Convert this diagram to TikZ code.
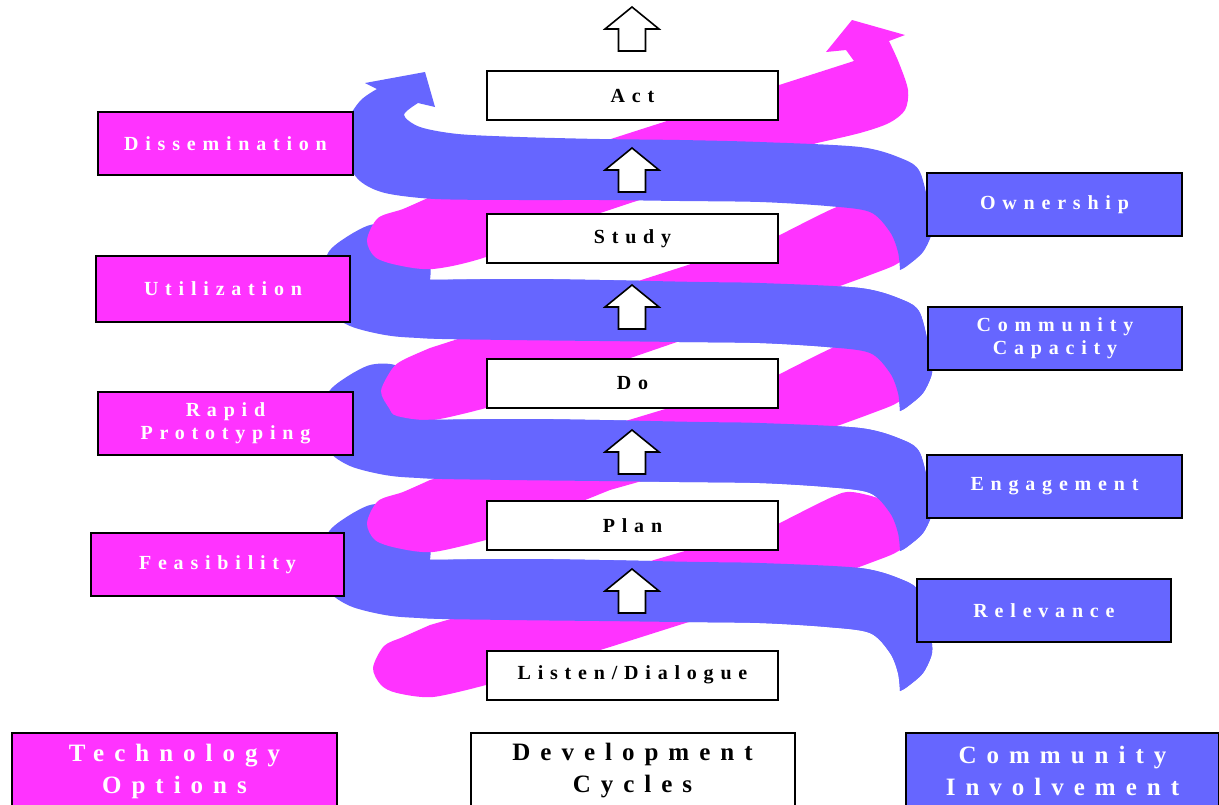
\documentclass[tikz,border=0pt]{standalone}
\usepackage{fontspec}
\setmainfont{Liberation Serif}
\newfontfamily\spaced{Liberation Serif}[LetterSpace=34]
\newfontfamily\spacedbig{Liberation Serif}[LetterSpace=40]
\definecolor{mag}{RGB}{255,51,255}
\definecolor{blu}{RGB}{102,102,255}
% magenta strand: #1 left y, #2 right y, #3 tip x shift, #4 y of lower edge at x=610
\newcommand\mstrand[4]{%
\fill[mag] plot[smooth] coordinates {(486,#1+25)(433,#1+37)(397,#1+33)(375+#3,#1+25)(367+#3,#1+8)(378+#3,#1-14)(403,#1-23)(430,#1-35)}
 -- (778,#2+29) -- plot[smooth] coordinates {(778,#2+29)(832,#2+2)(852,#2-3)(885,#2+6)(905,#2+25)(906,#2+48)(895,#2+58)(870,#2+68)(840,#2+79)}
 -- (610,#4) -- cycle;}
% blue band, back part (with curl), upper edge at y=0
\newcommand\blueback{%
\fill[blu] plot[smooth] coordinates {(430,0)(520,-1)(600,0)(700,2)(760,3)(860,8)(903,20)(920,33)(930,73)(932,93)(923,113)(907,127)(900,131)}
 -- plot[smooth] coordinates {(900,131)(898,113)(890,93)(870,73)(827,67)(760,63)(680,62)(600,61)(510,60)(420,58)(385,55)(350,46)(328,30)(322,0)(328,-27)(345,-42)(370,-55)(395,-55)(420,-40)(430,-15)(430,0)} -- cycle;}
% blue band, front part
\newcommand\bluefront{%
\fill[blu] plot[smooth] coordinates {(405,0)(520,-1)(600,0)(700,2)(760,3)(860,8)(903,20)(920,33)(930,73)(932,93)(923,113)(907,127)(900,131)}
 -- plot[smooth] coordinates {(900,131)(898,113)(890,93)(870,73)(827,67)(760,63)(680,62)(600,61)(510,60)(420,58)(405,50)} -- cycle;}
\begin{document}
\begin{tikzpicture}[x=1pt,y=-1pt,
  lbl/.style={font=\spaced\bfseries\fontsize{20}{23}\selectfont, align=center, inner sep=0pt, line width=2pt, draw=black},
  cbox/.style={lbl, fill=white, text=black, minimum width=291pt, minimum height=49pt},
  tbox/.style={lbl, fill=mag, text=white, minimum height=63pt},
  ibox/.style={lbl, fill=blu, text=white, minimum height=63pt},
  bigbox/.style={font=\spacedbig\bfseries\fontsize{25}{32}\selectfont, align=center, inner sep=0pt, line width=2pt, draw=black, minimum height=76pt},
  blk/.style={draw=black, line width=1.6pt, fill=white, line join=miter},
  uparrow/.pic={\path[blk] (0,0) -- (27,22) -- (13.5,22) -- (13.5,44) -- (-13.5,44) -- (-13.5,22) -- (-27,22) -- cycle;}
]
\useasboundingbox (0,0) rectangle (1219,804);
\clip (0,0) rectangle (1219,804);
% back parts of blue bands
\foreach \u in {280,420,560}{\begin{scope}[shift={(0,\u)}]\blueback\end{scope}}
% magenta strands
\mstrand{660}{495}{6}{647}
\mstrand{515}{346}{0}{490}
\mstrand{383}{207}{14}{365}
\fill[mag] plot[smooth] coordinates {(573,222)(486,257)(433,269)(397,265)(375,257)(367,240)(378,218)(403,209)(430,197)}
 -- (854,61) -- (846,50) -- (826,52) -- (852,20) -- (905,35) -- (889,41)
 -- plot[smooth] coordinates {(889,41)(899,63)(908,90)(905,110)(889,123)(860,133)(817,143)} -- (700,180) -- cycle;
% front parts of blue bands
\foreach \u in {280,420,560}{\begin{scope}[shift={(0,\u)}]\bluefront\end{scope}}
\fill[blu] (418,103) -- (435,107) -- (425,72) -- (365,83) -- (377,89)
 -- plot[smooth] coordinates {(377,89)(360,101)(346,125)(347,160)(360,181)(385,193)(435,199)(520,200)(600,200)(680,201)(760,202)(827,206)(870,212)(890,232)(898,252)(900,270)}
 -- plot[smooth] coordinates {(900,270)(907,266)(923,252)(932,232)(930,212)(920,172)(903,159)(860,147)(760,142)(680,140)(600,139)(520,137)(458,134)(420,127)(404,115)(418,103)} -- cycle;
% development cycle boxes
\node[cbox] (act) at (632.5,95.5) {Act};
\node[cbox] (study) at (632.5,238.5) {Study};
\node[cbox] (do) at (632.5,383.5) {Do};
\node[cbox] (plan) at (632.5,525.5) {Plan};
\node[cbox] (listen) at (632.5,675) {Listen/Dialogue};
% technology options
\node[tbox, minimum width=255pt] (diss) at (225.5,143.5) {Dissemination};
\node[tbox, minimum width=254pt, minimum height=66pt] (util) at (223,288.5) {Utilization};
\node[tbox, minimum width=255pt] (rapid) at (225.5,423.5) {Rapid\\Prototyping};
\node[tbox, minimum width=253pt] (feas) at (217.5,564.5) {Feasibility};
% community involvement
\node[ibox, minimum width=255pt] (own) at (1054.5,204.5) {Ownership};
\node[ibox, minimum width=254pt] (capa) at (1055,338.5) {Community\\Capacity};
\node[ibox, minimum width=255pt] (enga) at (1054.5,486.5) {Engagement};
\node[ibox, minimum width=254pt] (rele) at (1044,610.5) {Relevance};
% legend
\node[bigbox, fill=mag, text=white, minimum width=325pt] (tech) at (174.5,771) {Technology\\Options};
\node[bigbox, fill=white, text=black, minimum width=324pt] (dev) at (632.5,771) {Development\\Cycles};
\node[bigbox, fill=blu, text=white, minimum width=313pt] (comm) at (1062.5,771) {Community\\Involvement};
% block arrows
\pic at (632,7) {uparrow};
\pic at (632,148) {uparrow};
\pic at (632,285) {uparrow};
\pic at (632,430) {uparrow};
\pic at (632,569) {uparrow};
\end{tikzpicture}
\end{document}
